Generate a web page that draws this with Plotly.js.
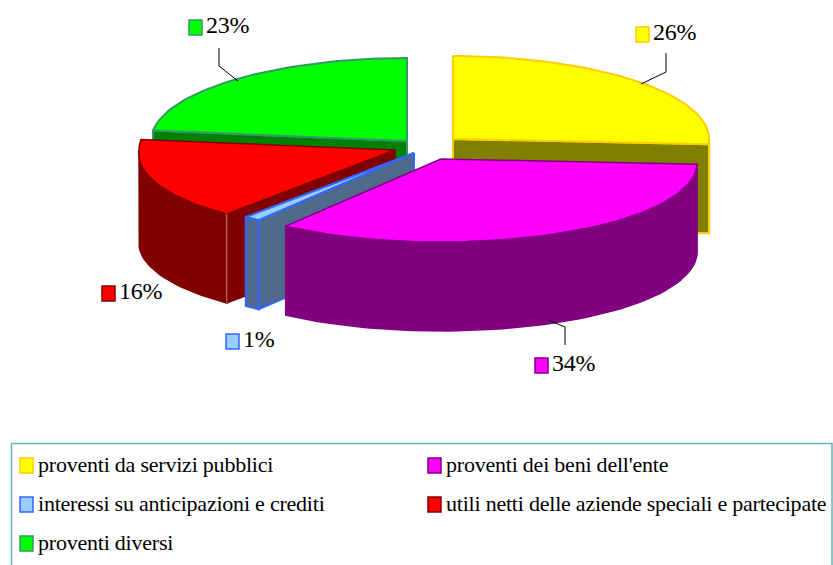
<!DOCTYPE html>
<html>
<head>
<meta charset="utf-8">
<script src="https://cdn.plot.ly/plotly-3.0.1.min.js"></script>
<style>html,body{margin:0;padding:0;background:#fff;overflow:hidden}#c{width:833px;height:565px}
.annotation-text{letter-spacing:-0.22px}</style>
</head>
<body>
<div id="c"></div>
<script>
var categories = ["proventi da servizi pubblici","proventi dei beni dell'ente","interessi su anticipazioni e crediti","utili netti delle aziende speciali e partecipate","proventi diversi"];
var percents = [26,34,1,16,23];
var topColors = ["#ffff00","#ff00ff","#99ccff","#ff0000","#00ff00"];
var wallColors = ["#808000","#800080","#4f6a8a","#800000","#008000"];
var lineColors = ["#ffcc00","#800080","#3366ff","#800000","#339966"];
var lineWidths = [2,1.5,2,1.5,2];

// exploded-slice centres, ellipse radii and depth of the 3D look
var centresX = [453,441,414,395,407];
var centresY = [139,159,153,150,141];
var RX = 256, RY = 83, DEPTH = 89;

var RAD = Math.PI/180, traces = [];
var startAngles = [], endAngles = [], acc = 0;
percents.forEach(function(p,i){ startAngles[i]=acc*3.6; acc+=p; endAngles[i]=acc*3.6; });

function pt(i,deg,dz){
  var s=Math.sin(deg*RAD), c=Math.cos(deg*RAD);
  return [centresX[i]+RX*s*(1+0.04*Math.max(0,-c)), centresY[i]-RY*c+(dz||0)];
}
function arc(a,b,i,dz){
  var out=[], n=Math.max(2,Math.ceil(Math.abs(b-a)/2));
  for(var k=0;k<=n;k++) out.push(pt(i,a+(b-a)*k/n,dz));
  return out;
}
function poly(points,fill,line,w){
  traces.push({type:'scatter',mode:'lines',x:points.map(function(p){return p[0]}),y:points.map(function(p){return p[1]}),
    fill:'toself',fillcolor:fill,line:{color:line,width:w},hoverinfo:'skip',showlegend:false});
}
function radialWall(i,deg){
  var a=[centresX[i],centresY[i]], b=pt(i,deg);
  poly([a,b,[b[0],b[1]+DEPTH],[a[0],a[1]+DEPTH],a],wallColors[i],lineColors[i],lineWidths[i]);
}
function rim(i){
  var a=Math.max(startAngles[i],90), b=Math.min(endAngles[i],270);
  if(b<=a) return;
  poly(arc(a,b,i,0).concat(arc(b,a,i,DEPTH)).concat([pt(i,a,0)]),wallColors[i],lineColors[i],lineWidths[i]);
}
function sliceTop(i){
  var c=[centresX[i],centresY[i]];
  poly([c].concat(arc(startAngles[i],endAngles[i],i,0)).concat([c]),topColors[i],lineColors[i],lineWidths[i]);
}
// back to front: green, yellow, red, blue, magenta
radialWall(4,startAngles[4]);
sliceTop(4);
radialWall(0,endAngles[0]); rim(0); sliceTop(0);
radialWall(3,startAngles[3]); rim(3); sliceTop(3);
var tip=pt(3,startAngles[3]);
traces.push({type:'scatter',mode:'lines',x:[tip[0],tip[0]],y:[tip[1],tip[1]+DEPTH],line:{color:'#c98080',width:1},hoverinfo:'skip',showlegend:false});
radialWall(2,startAngles[2]); rim(2); sliceTop(2);
rim(1); sliceTop(1);

// leader lines
var leaderX = [[666,666,641],[565,565,548],[219,219,238]];
var leaderY = [[53,72,84],[345,327,320],[48,66,81]];
leaderX.forEach(function(x,i){
  traces.push({type:'scatter',mode:'lines',x:x,y:leaderY[i],line:{color:'#000',width:1},hoverinfo:'skip',showlegend:false});
});

var FONT='"Liberation Serif","Times New Roman",serif';
var shapes=[], annotations=[];
function swatch(x,y,w,h,i){
  shapes.push({type:'rect',xref:'x',yref:'y',x0:x,x1:x+w,y0:y,y1:y+h,fillcolor:topColors[i],line:{color:lineColors[i],width:1.5}});
}
function label(x,y,t,size){
  annotations.push({xref:'x',yref:'y',x:x,y:y,text:t,showarrow:false,xanchor:'left',yanchor:'middle',align:'left',
    font:{family:FONT,size:size,color:'#000'},borderpad:0});
}
// data labels
var labelX=[636,535,226,102,189], labelY=[27,358,334,286,20];
percents.forEach(function(p,i){
  swatch(labelX[i],labelY[i],13,15,i);
  label(labelX[i]+16,labelY[i]+5,p+'%',24);
});
// legend box
shapes.push({type:'rect',xref:'x',yref:'y',x0:11.5,x1:832,y0:443.5,y1:580,fillcolor:'rgba(0,0,0,0)',line:{color:'#66b2b2',width:1.5}});
var legX=[20,428,20,428,20], legY=[458,458,497,497,536];
categories.forEach(function(c,i){
  swatch(legX[i],legY[i],13,15,i);
  label(legX[i]+17,legY[i]+6,c,22);
});

Plotly.newPlot('c',traces,{
  width:833,height:565,margin:{l:0,r:0,t:0,b:0},paper_bgcolor:'#fff',plot_bgcolor:'#fff',showlegend:false,
  xaxis:{range:[0,833],visible:false,fixedrange:true},
  yaxis:{range:[565,0],visible:false,fixedrange:true},
  shapes:shapes,annotations:annotations
},{displayModeBar:false,staticPlot:true});
</script>
</body>
</html>
